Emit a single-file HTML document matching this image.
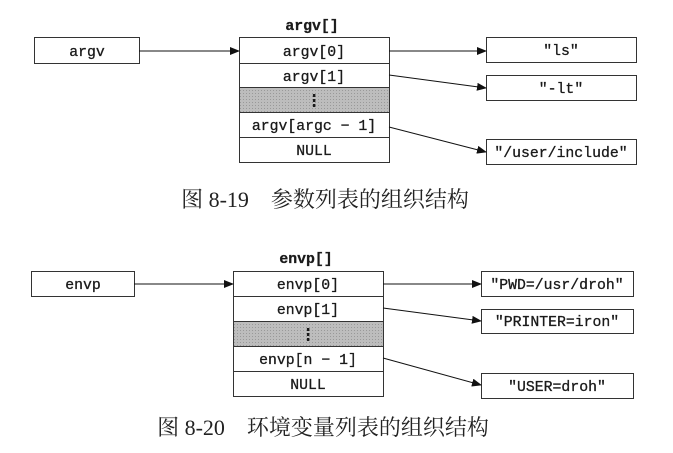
<!DOCTYPE html>
<html><head><meta charset="utf-8"><style>
html,body{margin:0;padding:0;background:#fff;}
svg text{font-family:"Liberation Mono",monospace;font-size:14.8px;fill:#1a1a1a;stroke:#1a1a1a;stroke-width:0.3px;}
svg .cap{font-family:"Liberation Serif","Noto Serif CJK SC",serif;font-size:22px;stroke:none;fill:#222;}
</style></head><body>
<svg width="673" height="448" viewBox="0 0 673 448" xmlns="http://www.w3.org/2000/svg">
<defs>
<marker id="a" markerWidth="10" markerHeight="8" refX="9" refY="4" orient="auto" markerUnits="userSpaceOnUse">
<path d="M0,0 L10,4 L0,8 z" fill="#111"/></marker>
<pattern id="g" width="3" height="3" patternUnits="userSpaceOnUse"><rect width="3" height="3" fill="#bdbdbd"/><rect width="1" height="1" fill="#999"/></pattern>
</defs>
<g fill="none" stroke="#333" stroke-width="1">
<rect x="34.5" y="37.5" width="105" height="26" fill="#fff"/>
<rect x="239.5" y="87.5" width="150" height="25" fill="url(#g)"/>
<rect x="239.5" y="37.5" width="150" height="125"/>
<line x1="239" y1="63.5" x2="390" y2="63.5"/>
<line x1="239" y1="87.5" x2="390" y2="87.5"/>
<line x1="239" y1="112.5" x2="390" y2="112.5"/>
<line x1="239" y1="137.5" x2="390" y2="137.5"/>
<rect x="486.5" y="37.5" width="150" height="25"/>
<rect x="486.5" y="75.5" width="150" height="25"/>
<rect x="486.5" y="139.5" width="150" height="25"/>
<g stroke="#111" marker-end="url(#a)">
<line x1="139" y1="51" x2="239" y2="51"/>
<line x1="389" y1="51" x2="486" y2="51"/>
<line x1="389" y1="75" x2="486" y2="88"/>
<line x1="389" y1="127" x2="486" y2="152"/>
</g>
<rect x="31.5" y="271.5" width="103" height="25"/>
<rect x="233.5" y="321.5" width="150" height="25" fill="url(#g)"/>
<rect x="233.5" y="271.5" width="150" height="125"/>
<line x1="233" y1="296.5" x2="384" y2="296.5"/>
<line x1="233" y1="321.5" x2="384" y2="321.5"/>
<line x1="233" y1="346.5" x2="384" y2="346.5"/>
<line x1="233" y1="371.5" x2="384" y2="371.5"/>
<rect x="481.5" y="271.5" width="152" height="25"/>
<rect x="481.5" y="309.5" width="152" height="24"/>
<rect x="481.5" y="373.5" width="152" height="25"/>
<g stroke="#111" marker-end="url(#a)">
<line x1="134" y1="284" x2="233" y2="284"/>
<line x1="383" y1="284" x2="481" y2="284"/>
<line x1="383" y1="308" x2="481" y2="321"/>
<line x1="383" y1="358" x2="481" y2="385"/>
</g>
</g>
<g text-anchor="middle">
<text x="312" y="30" font-weight="bold">argv[]</text>
<text x="87" y="56">argv</text>
<text x="314" y="56">argv[0]</text>
<text x="314" y="81">argv[1]</text>
<text x="314" y="105" font-weight="bold">⋮</text>
<text x="314" y="130">argv[argc − 1]</text>
<text x="314" y="155">NULL</text>
<text x="561" y="55">"ls"</text>
<text x="561" y="93">"-lt"</text>
<text x="561" y="157">"/user/include"</text>
<text x="325" y="207" class="cap">图 8-19　参数列表的组织结构</text>

<text x="306" y="263" font-weight="bold">envp[]</text>
<text x="83" y="289">envp</text>
<text x="308" y="289">envp[0]</text>
<text x="308" y="314">envp[1]</text>
<text x="308" y="339" font-weight="bold">⋮</text>
<text x="308" y="364">envp[n − 1]</text>
<text x="308" y="389">NULL</text>
<text x="557" y="289">"PWD=/usr/droh"</text>
<text x="557" y="326">"PRINTER=iron"</text>
<text x="557" y="391">"USER=droh"</text>
<text x="323" y="435" class="cap">图 8-20　环境变量列表的组织结构</text>
</g>
</svg>
</body></html>
